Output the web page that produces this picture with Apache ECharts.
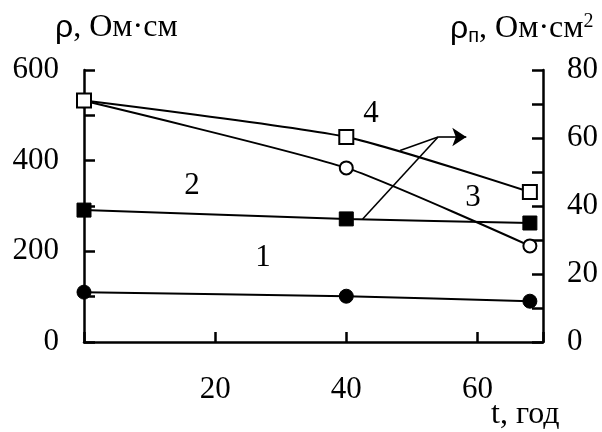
<!DOCTYPE html>
<html>
<head>
<meta charset="utf-8">
<script src="https://cdn.jsdelivr.net/npm/echarts@6/dist/echarts.min.js"></script>
<style>html,body{margin:0;padding:0;background:#fff}#c{width:602px;height:432px}</style>
</head>
<body>
<div id="c"></div>
<script>
// ---- data ----
var t = [0, 40, 68];
var curve1 = [110, 101, 90];     // left axis, ρ (filled circles)
var curve2 = [38.8, 36.2, 35.0]; // right axis, ρп (filled squares)
var curve3 = [532, 384, 212];    // left axis, ρ (open circles)
var curve4 = [71, 60.3, 44.1];   // right axis, ρп (open squares)
var xTickLabels = [20, 40, 60];
var yLeftTickLabels = [0, 200, 400, 600];
var yRightTickLabels = [0, 20, 40, 60, 80];
// arrow annotation (data coords on right axis)
var arrowLeg1 = [[42.5, 36.2], [54.0, 60.3]];
var arrowLeg2 = [[48.2, 56.3], [54.0, 60.3]];
var arrowHead = [[54.0, 60.3], [58.3, 60.3]];

function pairs(xs, ys) { return xs.map(function (x, i) { return [x, ys[i]]; }); }

var serif = 'Liberation Serif';
var FS = 31;
var TFS = 32;
var chart = echarts.init(document.getElementById('c'));
var axisLineStyle = { color: '#000', width: 2.5 };
function seg(p, endSym) {
  return [{ coord: p[0], symbol: 'none' }, { coord: p[1], symbol: endSym }];
}
chart.setOption({
  animation: false,
  backgroundColor: '#fff',
  grid: { left: 84, right: 59, top: 70, bottom: 90 },
  xAxis: {
    type: 'value', min: 0, max: 70, interval: 20,
    splitLine: { show: false },
    axisLine: { lineStyle: axisLineStyle },
    axisTick: { inside: true, length: 10, lineStyle: { color: '#000', width: 2.5 } },
    axisLabel: {
      margin: 32, color: '#000', fontFamily: serif, fontSize: FS,
      formatter: function (v) { return xTickLabels.indexOf(v) >= 0 ? String(v) : ''; }
    }
  },
  yAxis: [{
    type: 'value', min: 0, max: 600, interval: 100, position: 'left',
    splitLine: { show: false },
    axisLine: { show: true, lineStyle: axisLineStyle },
    axisTick: { show: true, inside: true, length: 11, lineStyle: { color: '#000', width: 2.5 } },
    axisLabel: {
      margin: 25, color: '#000', fontFamily: serif, fontSize: FS,
      formatter: function (v) { return yLeftTickLabels.indexOf(v) >= 0 ? String(v) : ''; }
    }
  }, {
    type: 'value', min: 0, max: 80, interval: 10, position: 'right',
    splitLine: { show: false },
    axisLine: { show: true, lineStyle: axisLineStyle },
    axisTick: { show: true, inside: true, length: 11, lineStyle: { color: '#000', width: 2.5 } },
    axisLabel: {
      margin: 24, color: '#000', fontFamily: serif, fontSize: FS,
      formatter: function (v) { return yRightTickLabels.indexOf(v) >= 0 ? String(v) : ''; }
    }
  }],
  series: [{
    name: '1', type: 'line', yAxisIndex: 0, data: pairs(t, curve1), smooth: 0.2,
    symbol: 'circle', symbolSize: 14,
    lineStyle: { color: '#000', width: 2 },
    itemStyle: { color: '#000', borderColor: '#000' }, z: 3
  }, {
    name: '3', type: 'line', yAxisIndex: 0, data: pairs(t, curve3), smooth: 0.2,
    symbol: 'circle', symbolSize: 13,
    lineStyle: { color: '#000', width: 2 },
    itemStyle: { color: '#fff', borderColor: '#000', borderWidth: 2 }, z: 3
  }, {
    name: '2', type: 'line', yAxisIndex: 1, data: pairs(t, curve2), smooth: 0.2,
    symbol: 'rect', symbolSize: 14,
    lineStyle: { color: '#000', width: 2 },
    itemStyle: { color: '#000', borderColor: '#000' }, z: 4,
    markLine: {
      silent: true, symbolSize: 14,
      lineStyle: { color: '#000', width: 1.6, type: 'solid' },
      label: { show: false },
      data: [seg(arrowLeg1, 'none'), seg(arrowLeg2, 'none'), seg(arrowHead, 'arrow')]
    }
  }, {
    name: '4', type: 'line', yAxisIndex: 1, data: pairs(t, curve4), smooth: 0.2,
    symbol: 'rect', symbolSize: 14,
    lineStyle: { color: '#000', width: 2 },
    itemStyle: { color: '#fff', borderColor: '#000', borderWidth: 2 }, z: 5
  }],
  graphic: [
    { type: 'text', left: 55, top: 12, style: {
      text: '{s|ρ}, Ом·см', fill: '#000', font: TFS + 'px ' + serif,
      rich: { s: { fontFamily: 'Liberation Sans', fontSize: TFS, fill: '#000' } } } },
    { type: 'text', left: 450, top: 12, style: {
      text: '{s|ρ}{sub|п}, Ом·см{sup|2}', fill: '#000', font: TFS + 'px ' + serif,
      rich: {
        s: { fontFamily: 'Liberation Sans', fontSize: TFS, fill: '#000' },
        sub: { fontFamily: 'Liberation Sans', fontSize: 20, fill: '#000', verticalAlign: 'bottom', padding: [12, 0, 0, 0] },
        sup: { fontFamily: serif, fontSize: 20, fill: '#000', verticalAlign: 'top', padding: [0, 0, 14, 0] }
      } } },
    { type: 'text', left: 491, top: 399, style: { text: 't, год', fill: '#000', font: TFS + 'px ' + serif } },
    { type: 'text', x: 263, y: 258, style: { text: '1', fill: '#000', font: FS + 'px ' + serif, align: 'center', verticalAlign: 'middle' } },
    { type: 'text', x: 192, y: 186, style: { text: '2', fill: '#000', font: FS + 'px ' + serif, align: 'center', verticalAlign: 'middle' } },
    { type: 'text', x: 473, y: 198, style: { text: '3', fill: '#000', font: FS + 'px ' + serif, align: 'center', verticalAlign: 'middle' } },
    { type: 'text', x: 371, y: 114, style: { text: '4', fill: '#000', font: FS + 'px ' + serif, align: 'center', verticalAlign: 'middle' } }
  ]
});
</script>
</body>
</html>
